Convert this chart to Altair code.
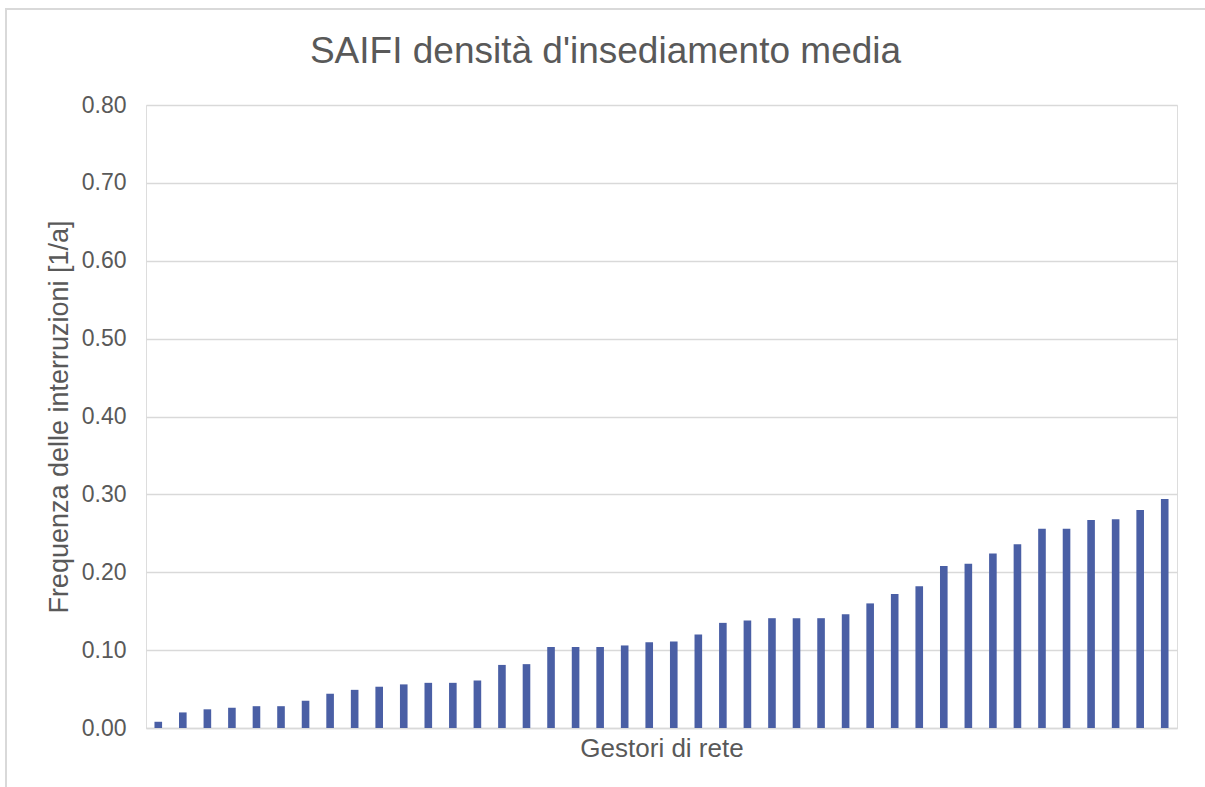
import altair as alt
import pandas as pd

# Values (sorted ascending as in the picture)
gestori = [f"G{i}" for i in range(1, 43)]
saifi = [0.008, 0.020, 0.024, 0.026, 0.028, 0.028, 0.035, 0.044, 0.049, 0.053,
         0.056, 0.058, 0.058, 0.061, 0.081, 0.082, 0.104, 0.104, 0.104, 0.106,
         0.110, 0.111, 0.120, 0.135, 0.138, 0.141, 0.141, 0.141, 0.146, 0.160,
         0.172, 0.182, 0.208, 0.211, 0.224, 0.236, 0.256, 0.256, 0.267, 0.268,
         0.280, 0.294]
y_ticks = [0.0, 0.1, 0.2, 0.3, 0.4, 0.5, 0.6, 0.7, 0.8]

df = pd.DataFrame({"gestore": gestori, "saifi": saifi})

W, H = 1031, 623
TXT = "#595959"
GRID = "#d9d9d9"
FONT = "Liberation Sans"

bars = alt.Chart(df).mark_bar(color="#4a5fa5").encode(
    x=alt.X("gestore:N", sort=None,
            scale=alt.Scale(paddingInner=0.69, paddingOuter=0.345),
            axis=alt.Axis(title="Gestori di rete", labels=False, ticks=False, grid=False,
                          domainColor=GRID, domainWidth=1.5,
                          titleFont=FONT, titleFontSize=26, titleFontWeight="normal",
                          titleColor=TXT, titlePadding=7)),
    y=alt.Y("saifi:Q",
            scale=alt.Scale(domain=[0, 0.8], nice=False),
            axis=alt.Axis(title="Frequenza delle interruzioni [1/a]", values=y_ticks,
                          format=".2f", domain=False, ticks=False,
                          gridColor=GRID, gridWidth=1.5,
                          labelFont=FONT, labelFontSize=23, labelColor=TXT,
                          labelPadding=20,
                          titleFont=FONT, titleFontSize=27, titleFontWeight="normal",
                          titleColor=TXT, titlePadding=8)),
)

frame = alt.Chart(df).mark_rect(fill=None, stroke=GRID, strokeWidth=2).encode(
    x=alt.value(-140), x2=alt.value(W + 60),
    y=alt.value(-96), y2=alt.value(H + 80),
)

chart = alt.layer(frame, bars).properties(
    width=W, height=H,
    title=alt.TitleParams("SAIFI densità d'insediamento media", font=FONT,
                          fontSize=37, fontWeight="normal", color=TXT,
                          anchor="middle", baseline="alphabetic", offset=0,
                          dx=-56, dy=92),
    autosize=alt.AutoSizeParams(type="none"),
    padding={"left": 146, "top": 105, "right": 28, "bottom": 59},
).configure_view(stroke="transparent", strokeWidth=0).configure(background="white")

chart.save("out.html", embed_options={"renderer": "svg", "actions": False})
